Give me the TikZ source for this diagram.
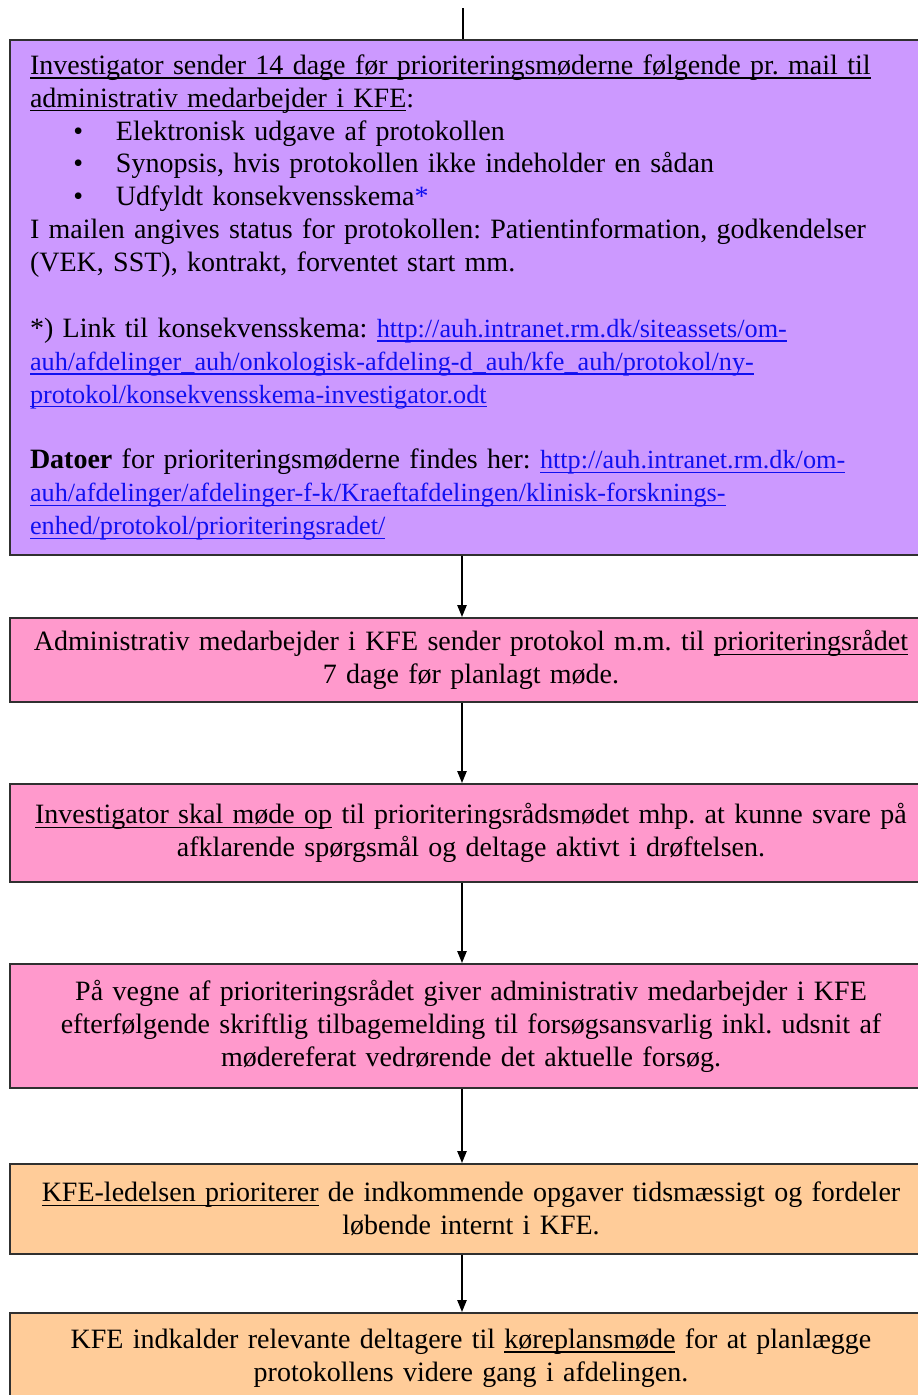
\documentclass[tikz,border=0pt]{standalone}
\usepackage{fontspec}
\setmainfont{Liberation Serif}
\usetikzlibrary{arrows.meta}
\definecolor{boxpurple}{HTML}{CC99FF}
\definecolor{boxpink}{HTML}{FF99CC}
\definecolor{boxorange}{HTML}{FFCC99}
\definecolor{linkblue}{HTML}{1010F0}
\definecolor{edge}{HTML}{303030}
\newsavebox{\ulnbox}
\newcommand{\uln}[1]{\leavevmode\sbox{\ulnbox}{#1}\rlap{\rule[-1.9pt]{\wd\ulnbox}{0.6pt}}\usebox{\ulnbox}}
\newcommand{\lnk}[1]{{\fontsize{11.8pt}{14.8pt}\selectfont\textcolor{linkblue}{\uln{#1}}}}
\newcommand{\bul}[1]{\makebox[38.7pt][l]{\hspace{19.5pt}\textbullet}#1}
\tikzset{
  flowbox/.style={draw=edge, line width=0.9pt, rectangle, anchor=north west,
    minimum width=414.9pt, inner xsep=9pt, inner ysep=0pt,
    text width=396.9pt, font=\fontsize{12.6pt}{14.8pt}\selectfont\frenchspacing},
  cbox/.style={flowbox, align=center},
  lbox/.style={flowbox, align=left},
  arr/.style={line width=0.7pt, -{Triangle[length=5.4pt,width=4.2pt]}},
  plain/.style={line width=0.7pt}
}
\begin{document}
\begin{tikzpicture}[x=0.45pt,y=-0.45pt]
\useasboundingbox (0,0) rectangle (918,1395);
\clip (0,0) rectangle (918,1395);
\coordinate (ax) at (462,0);
\coordinate (topend) at (463,8);

\node[lbox, fill=boxpurple, minimum height={515*0.45pt}] (b1) at (9,39) {%
\uln{Investigator sender 14 dage før prioriteringsmøderne følgende pr. mail til}\\
\uln{administrativ medarbejder i KFE}:\\
\bul{Elektronisk udgave af protokollen}\\
\bul{Synopsis, hvis protokollen ikke indeholder en sådan}\\
\bul{Udfyldt konsekvensskema\textcolor{linkblue}{*}}\\
I mailen angives status for protokollen: Patientinformation, godkendelser\\
(VEK, SST), kontrakt, forventet start mm.\\
\mbox{}\\
\mbox{*}) Link til konsekvensskema: \lnk{http://auh.intranet.rm.dk/siteassets/om-}\\
\lnk{auh/afdelinger\_auh/onkologisk-afdeling-d\_auh/kfe\_auh/protokol/ny-}\\
\lnk{protokol/konsekvensskema-investigator.odt}\\
\mbox{}\\
\textbf{Datoer} for prioriteringsmøderne findes her: \lnk{http://auh.intranet.rm.dk/om-}\\
\lnk{auh/afdelinger/afdelinger-f-k/Kraeftafdelingen/klinisk-forsknings-}\\
\lnk{enhed/protokol/prioriteringsradet/}};

\node[cbox, fill=boxpink, minimum height={84*0.45pt}] (b2) at (9,617) {%
Administrativ medarbejder i KFE sender protokol m.m. til \uln{prioriteringsrådet}\\
7 dage før planlagt møde.};

\node[cbox, fill=boxpink, minimum height={98*0.45pt}] (b3) at (9,783) {%
\uln{Investigator skal møde op} til prioriteringsrådsmødet mhp. at kunne svare på\\
afklarende spørgsmål og deltage aktivt i drøftelsen.};

\node[cbox, fill=boxpink, minimum height={124*0.45pt}] (b4) at (9,963) {%
På vegne af prioriteringsrådet giver administrativ medarbejder i KFE\\
efterfølgende skriftlig tilbagemelding til forsøgsansvarlig inkl. udsnit af\\
mødereferat vedrørende det aktuelle forsøg.};

\node[cbox, fill=boxorange, minimum height={90*0.45pt}] (b5) at (9,1163) {%
\uln{KFE-ledelsen prioriterer} de indkommende opgaver tidsmæssigt og fordeler\\
løbende internt i KFE.};

\node[cbox, fill=boxorange, minimum height={90*0.45pt}] (b6) at (9,1312) {%
KFE indkalder relevante deltagere til \uln{køreplansmøde} for at planlægge\\
protokollens videre gang i afdelingen.};

\draw[plain] (topend) -- (topend |- b1.north);
\draw[arr] (ax |- b1.south) -- (ax |- b2.north);
\draw[arr] (ax |- b2.south) -- (ax |- b3.north);
\draw[arr] (ax |- b3.south) -- (ax |- b4.north);
\draw[arr] (ax |- b4.south) -- (ax |- b5.north);
\draw[arr] (ax |- b5.south) -- (ax |- b6.north);
\end{tikzpicture}
\end{document}
